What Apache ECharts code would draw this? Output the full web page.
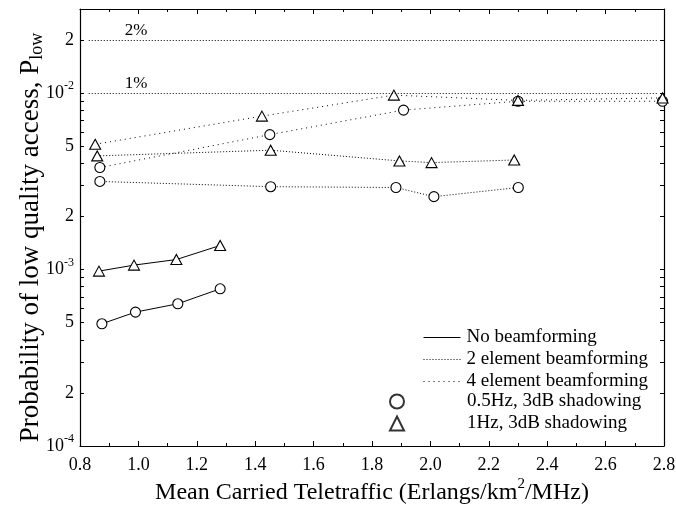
<!DOCTYPE html>
<html><head><meta charset="utf-8">
<script src="https://cdn.jsdelivr.net/npm/echarts@6/dist/echarts.min.js"></script>
<style>html,body{margin:0;padding:0;background:#fff}#c{width:676px;height:508px}</style>
</head><body><div id="c"></div>
<script>
// ---- data ----
const noBF05X = [0.875, 0.99, 1.135, 1.28];
const noBF05Y = [4.93e-4, 5.74e-4, 6.40e-4, 7.78e-4];
const noBF1X  = [0.865, 0.985, 1.13, 1.28];
const noBF1Y  = [9.8e-4, 1.06e-3, 1.14e-3, 1.37e-3];
const bf2_05X = [0.868, 1.453, 1.882, 2.012, 2.301];
const bf2_05Y = [3.16e-3, 2.95e-3, 2.92e-3, 2.59e-3, 2.92e-3];
const bf2_1X  = [0.859, 1.453, 1.894, 2.004, 2.287];
const bf2_1Y  = [4.41e-3, 4.75e-3, 4.13e-3, 4.04e-3, 4.18e-3];
const bf4_05X = [0.868, 1.450, 1.908, 2.300, 2.795];
const bf4_05Y = [3.79e-3, 5.82e-3, 8.02e-3, 9.0e-3, 9.0e-3];
const bf4_1X  = [0.852, 1.423, 1.875, 2.300, 2.795];
const bf4_1Y  = [5.13e-3, 7.41e-3, 9.75e-3, 9.1e-3, 9.4e-3];
const refLevels = [0.02, 0.01];
const refLabels = ['2%', '1%'];
const refSpan = [0.83, 2.775];
const yLabelValues = [1e-4, 2e-4, 5e-4, 1e-3, 2e-3, 5e-3, 1e-2, 2e-2];
const yTickValues = [1e-4,2e-4,3e-4,4e-4,5e-4,6e-4,7e-4,8e-4,9e-4,
                     1e-3,2e-3,3e-3,4e-3,5e-3,6e-3,7e-3,8e-3,9e-3,
                     1e-2,2e-2,3e-2];
const legendLines = ['No beamforming', '2 element beamforming', '4 element beamforming'];
const legendMarks = ['0.5Hz, 3dB shadowing', '1Hz, 3dB shadowing'];

// ---- chart ----
const FONT = '"Liberation Serif", "Times New Roman", serif';
const zip = (xs, ys) => xs.map((x, i) => [x, ys[i]]);
const styles = {
  solid: 'solid',
  dense: [1, 2],
  sparse: [1, 4]
};
function dataSeries(name, xs, ys, dash, symbol) {
  return {
    name: name, type: 'line', data: zip(xs, ys),
    symbol: symbol, symbolSize: symbol === 'triangle' ? [11, 10] : 10,
    clip: false, silent: true,
    lineStyle: { color: '#000', width: 1, type: dash },
    itemStyle: { color: '#fff', borderColor: '#000', borderWidth: 1.1 },
    z: 3
  };
}
function yFmt(v) {
  const e = Math.floor(Math.log10(v) + 1e-9);
  const m = Math.round(v / Math.pow(10, e));
  return m === 1 ? '{b|10}{s|' + e + '}' : '{b|' + m + '}';
}
const series = [
  dataSeries('s1', noBF05X, noBF05Y, styles.solid, 'circle'),
  dataSeries('s2', noBF1X, noBF1Y, styles.solid, 'triangle'),
  dataSeries('s3', bf2_05X, bf2_05Y, styles.dense, 'circle'),
  dataSeries('s4', bf2_1X, bf2_1Y, styles.dense, 'triangle'),
  dataSeries('s5', bf4_05X, bf4_05Y, styles.sparse, 'circle'),
  dataSeries('s6', bf4_1X, bf4_1Y, styles.sparse, 'triangle'),
  {
    name: 'ref', type: 'line', data: [], silent: true,
    markLine: {
      silent: true, symbol: 'none', animation: false,
      lineStyle: { color: '#000', width: 1, type: [1, 2] },
      label: { show: true, position: 'insideStartTop', formatter: '{b}', distance: [36, 1],
               color: '#000', fontFamily: FONT, fontSize: 17 },
      data: refLevels.map((lv, i) => [
        { coord: [refSpan[0], lv], name: refLabels[i] },
        { coord: [refSpan[1], lv] }
      ])
    }
  },
  { name: legendLines[0], type: 'line', data: [], symbol: 'none', lineStyle: { color: '#000', width: 1, type: styles.solid } },
  { name: legendLines[1], type: 'line', data: [], symbol: 'none', lineStyle: { color: '#000', width: 1, type: styles.dense } },
  { name: legendLines[2], type: 'line', data: [], symbol: 'none', lineStyle: { color: '#000', width: 1, type: styles.sparse } },
  { name: legendMarks[0], type: 'scatter', data: [], symbol: 'circle', itemStyle: { color: '#fff', borderColor: '#000', borderWidth: 1.2 } },
  { name: legendMarks[1], type: 'scatter', data: [], symbol: 'triangle', itemStyle: { color: '#fff', borderColor: '#000', borderWidth: 1.2 } }
];
const legendText = { color: '#000', fontFamily: FONT, fontSize: 19 };
const chart = echarts.init(document.getElementById('c'), null, { renderer: 'canvas' });
chart.setOption({
  animation: false,
  backgroundColor: '#fff',
  grid: { left: 80, right: 12, top: 9, bottom: 62, containLabel: false, outerBoundsMode: 'none' },
  legend: [
    { data: legendLines, orient: 'vertical', left: 418, top: 323, itemWidth: 37, itemHeight: 14,
      itemGap: 3, selectedMode: false,
      itemStyle: { color: 'rgba(0,0,0,0)', borderWidth: 0, opacity: 0 },
      lineStyle: { color: '#000', width: 1 },
      textStyle: Object.assign({ padding: [0, 0, 0, 1] }, legendText) },
    { data: legendMarks, orient: 'vertical', left: 384, top: 387, itemWidth: 14, itemHeight: 14,
      itemGap: 3, selectedMode: false, textStyle: Object.assign({ padding: [0, 0, 0, 58] }, legendText) }
  ],
  xAxis: [
    { type: 'value', min: 0.8, max: 2.8, interval: 0.2,
      name: 'Mean Carried Teletraffic (Erlangs/km{s|2}/MHz)', nameLocation: 'middle', nameGap: 31,
      nameMoveOverlap: false,
      nameTextStyle: { color: '#000', fontFamily: FONT, fontSize: 24,
        rich: { s: { fontSize: 15, fontFamily: FONT, color: '#000', padding: [0, 0, 16, 0] } } },
      axisLine: { lineStyle: { color: '#000', width: 1.2 } },
      axisTick: { inside: true, length: 5, lineStyle: { color: '#000' } },
      minorTick: { show: true, splitNumber: 2, length: 3, lineStyle: { color: '#000' } },
      splitLine: { show: false },
      axisLabel: { color: '#000', fontFamily: FONT, fontSize: 18, margin: 10,
        formatter: v => v.toFixed(1) } },
    { type: 'value', position: 'top', min: 0.8, max: 2.8, interval: 0.2,
      axisLine: { lineStyle: { color: '#000', width: 1.2 } },
      axisTick: { inside: true, length: 5, lineStyle: { color: '#000' } },
      minorTick: { show: true, splitNumber: 2, length: 3, lineStyle: { color: '#000' } },
      splitLine: { show: false }, axisLabel: { show: false } }
  ],
  yAxis: [
    { type: 'log', logBase: 10, min: 1e-4, max: 0.03,
      name: 'Probability of low quality access, P{sub|low}', nameLocation: 'middle', nameRotate: 90, nameGap: 34,
      nameMoveOverlap: false,
      nameTextStyle: { color: '#000', fontFamily: FONT, fontSize: 27, padding: [0, 20, 0, 0],
        rich: { sub: { fontSize: 18, fontFamily: FONT, color: '#000', padding: [12, 0, 0, 0] } } },
      axisLine: { show: true, lineStyle: { color: '#000', width: 1.2 } },
      axisTick: { show: true, inside: true, length: 4, customValues: yTickValues, lineStyle: { color: '#000' } },
      splitLine: { show: false },
      axisLabel: { customValues: yLabelValues, formatter: yFmt, margin: 6,
        rich: { b: { fontSize: 18, fontFamily: FONT, color: '#000' },
                s: { fontSize: 12, fontFamily: FONT, color: '#000', padding: [0, 0, 14, 0] } } } },
    { type: 'log', logBase: 10, min: 1e-4, max: 0.03, position: 'right',
      axisLine: { show: true, lineStyle: { color: '#000', width: 1.2 } },
      axisTick: { show: true, inside: true, length: 4, customValues: yTickValues, lineStyle: { color: '#000' } },
      splitLine: { show: false }, axisLabel: { show: false } }
  ],
  series: series
});
</script></body></html>
